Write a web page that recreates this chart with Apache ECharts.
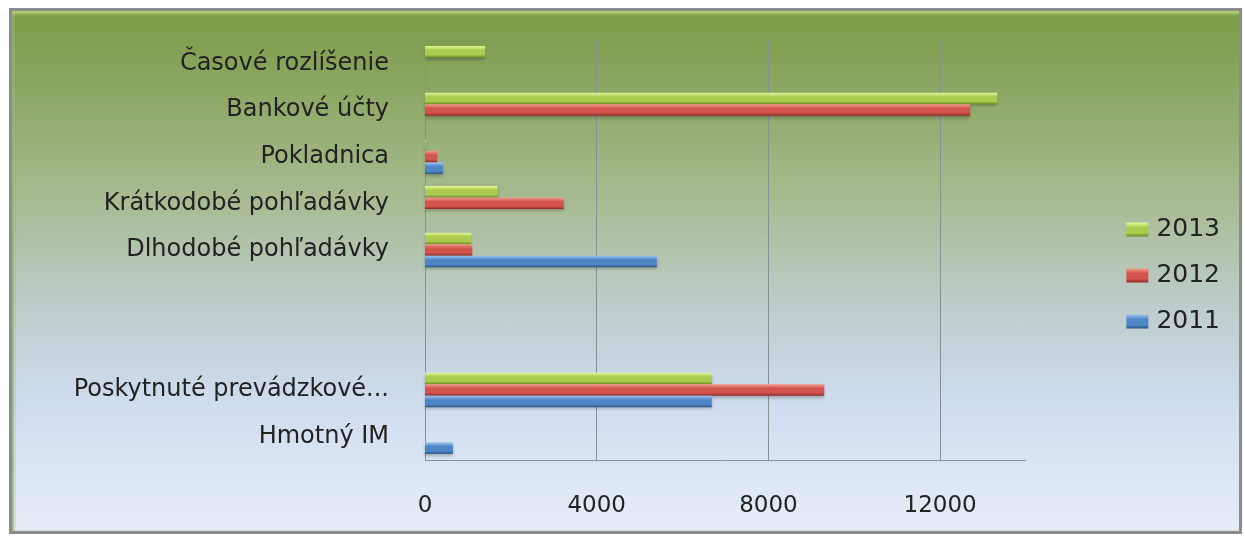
<!DOCTYPE html>
<html><head><meta charset="utf-8">
<script src="https://cdn.jsdelivr.net/npm/echarts@6/dist/echarts.min.js"></script>
<style>
html,body{margin:0;padding:0;background:#fff;width:1245px;height:537px;overflow:hidden}
#frame{position:absolute;left:9px;top:8px;width:1227px;height:520px;border:3px solid #8c8c8c;
background:linear-gradient(to bottom,#7b9b46 0%,#8ca764 15%,#a6ba8e 35%,#bccbc6 55%,#cfdcef 75%,#e6edf9 100%);
box-shadow:inset 0 5px 3px -2px #b4cf78, inset 3px 0 3px -1px #9cb07a;}
#chart{position:absolute;left:0;top:0;width:1245px;height:537px}
</style></head>
<body><div id="frame"></div><div id="chart"></div>
<script>
const categories = ['Hmotný IM','Poskytnuté prevádzkové...',' ','  ','Dlhodobé pohľadávky','Krátkodobé pohľadávky','Pokladnica','Bankové účty','Časové rozlíšenie'];
const v2011 = [650, 6680, null, null, 5400, null, 420, null, null];
const v2012 = [null, 9300, null, null, 1100, 3230, 280, 12700, null];
const v2013 = [null, 6680, null, null, 1080, 1690, 20, 13330, 1400];
const xTicks = {min:0, max:14000, interval:4000};

function grad(light, base, dark){
  return new echarts.graphic.LinearGradient(0,0,0,1,[
    {offset:0,color:light},{offset:0.35,color:base},{offset:0.75,color:base},{offset:1,color:dark}]);
}
const styles = {
  '2011': grad('#9cc4f0','#4f86c6','#2c5584'),
  '2012': grad('#f59a8a','#d2544d','#8e2a26'),
  '2013': grad('#e4f79a','#aacb4e','#6c8a24')
};
const font = '"DejaVu Sans", sans-serif';
const chart = echarts.init(document.getElementById('chart'));
function mk(name, data){
  return {name, type:'bar', data, barWidth:11.5, barGap:'0%',
    itemStyle:{color:styles[name], shadowColor:'rgba(0,0,0,0.25)', shadowBlur:3, shadowOffsetY:2}};
}
chart.setOption({
  animation:false,
  grid:{left:425, right:219, top:40, bottom:77, containLabel:false},
  legend:{orient:'vertical', right:20, top:212, itemGap:21, itemWidth:22, itemHeight:14, icon:'rect',
    data:['2013','2012','2011'], textStyle:{fontFamily:font, fontSize:25, color:'#222', padding:[0,0,0,3]}},
  xAxis:{type:'value', min:xTicks.min, max:xTicks.max, interval:xTicks.interval,
    axisLine:{show:false}, axisTick:{show:false},
    axisLabel:{showMaxLabel:false, margin:35, fontFamily:font, fontSize:23, color:'#222',
      formatter: v => String(v)},
    splitLine:{show:true, showMinLine:false, showMaxLine:false, lineStyle:{color:'#8a8f96', width:1}}},
  yAxis:{type:'category', data:categories,
    axisLine:{show:true, lineStyle:{color:'#8a8f96', width:1}}, axisTick:{show:false},
    axisLabel:{margin:36, fontFamily:font, fontSize:24, color:'#222'}},
  graphic:[{type:'line', shape:{x1:425,y1:460.5,x2:1026,y2:460.5}, style:{stroke:'#8a8f96', lineWidth:1}, z:5}],
  series:[mk('2013',v2013), mk('2012',v2012), mk('2011',v2011)]
});
</script></body></html>
